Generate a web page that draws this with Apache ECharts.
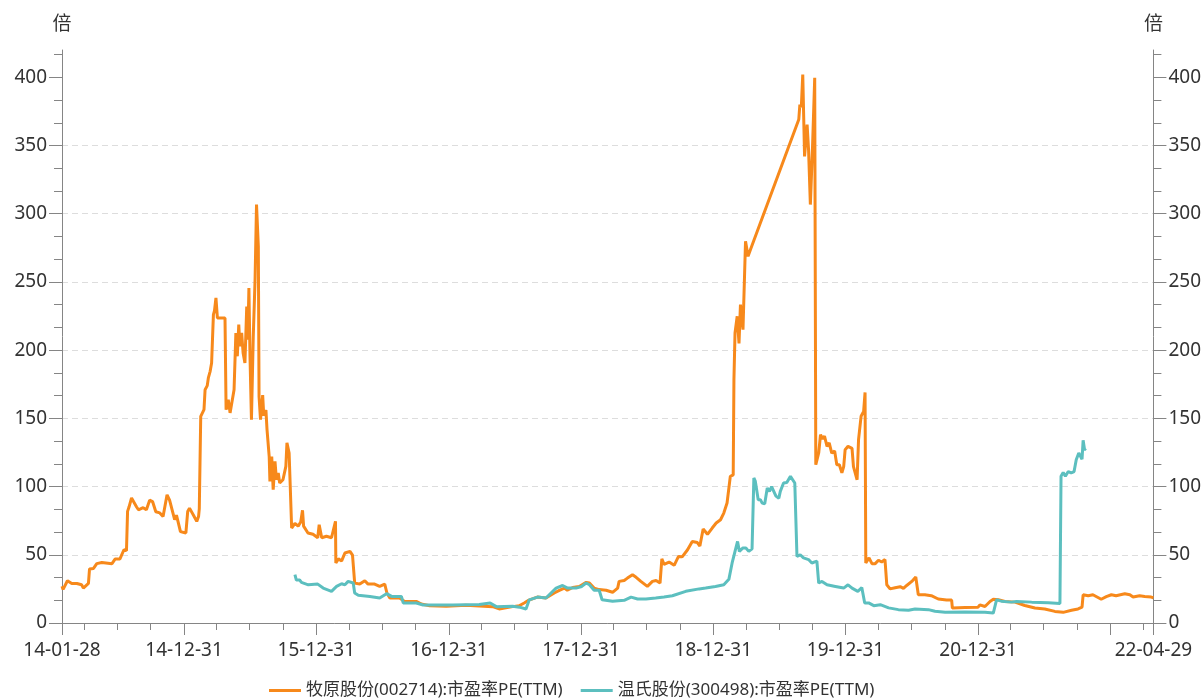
<!DOCTYPE html>
<html>
<head>
<meta charset="utf-8">
<title>牧原股份 / 温氏股份 市盈率PE(TTM)</title>
<script src="https://cdn.jsdelivr.net/npm/echarts@6/dist/echarts.min.js"></script>
<style>
    html, body { margin: 0; padding: 0; background: #fff; }
    #pe-chart { width: 1204px; height: 700px; }
</style>
</head>
<body>
<div id="pe-chart"></div>
<script>
    // 牧原股份(002714) 市盈率PE(TTM)
    var muyuanDates = [
        '2014-01-28','2014-01-31','2014-02-12','2014-02-24','2014-03-10','2014-03-23','2014-03-28','2014-04-11','2014-04-14','2014-04-25',
        '2014-05-04','2014-05-18','2014-06-15','2014-06-24','2014-07-07','2014-07-18','2014-07-25','2014-07-28','2014-08-01','2014-08-08',
        '2014-08-22','2014-08-27','2014-09-09','2014-09-18','2014-09-27','2014-10-05','2014-10-14','2014-10-25','2014-11-03','2014-11-14',
        '2014-11-21','2014-12-05','2014-12-10','2014-12-21','2015-01-05','2015-01-10','2015-01-15','2015-01-26','2015-02-04','2015-02-09',
        '2015-02-11','2015-02-15','2015-02-24','2015-02-27','2015-03-05','2015-03-08','2015-03-13','2015-03-17','2015-03-22','2015-03-25',
        '2015-03-29','2015-04-02','2015-04-23','2015-04-26','2015-05-02','2015-05-07','2015-05-12','2015-05-18','2015-05-23','2015-05-27',
        '2015-05-31','2015-06-03','2015-06-08','2015-06-12','2015-06-17','2015-06-22','2015-06-25','2015-06-28','2015-07-01','2015-07-05',
        '2015-07-10','2015-07-15','2015-07-19','2015-07-24','2015-07-26','2015-07-30','2015-08-05','2015-08-08','2015-08-14','2015-08-17',
        '2015-08-23','2015-08-25','2015-08-30','2015-09-03','2015-09-08','2015-09-12','2015-09-17','2015-09-21','2015-09-30','2015-10-08',
        '2015-10-11','2015-10-17','2015-10-24','2015-11-02','2015-11-11','2015-11-18','2015-11-23','2015-11-26','2015-12-08','2015-12-22',
        '2016-01-04','2016-01-08','2016-01-15','2016-01-28','2016-02-11','2016-02-22','2016-02-23','2016-03-01','2016-03-10','2016-03-19',
        '2016-04-02','2016-04-09','2016-04-15','2016-04-29','2016-05-13','2016-05-22','2016-06-09','2016-06-23','2016-07-07','2016-07-13',
        '2016-07-21','2016-08-17','2016-08-31','2016-10-02','2016-10-16','2016-11-08','2016-12-24','2017-02-16','2017-03-25','2017-05-01',
        '2017-05-19','2017-06-25','2017-07-13','2017-07-27','2017-08-09','2017-09-01','2017-09-25','2017-10-18','2017-11-01','2017-11-15',
        '2017-11-23','2017-12-08','2017-12-26','2018-01-14','2018-01-23','2018-02-05','2018-02-19','2018-03-10','2018-03-28','2018-04-11',
        '2018-04-15','2018-04-29','2018-05-08','2018-05-22','2018-06-01','2018-06-14','2018-07-02','2018-07-16','2018-07-26','2018-08-06',
        '2018-08-11','2018-08-17','2018-08-31','2018-09-14','2018-09-26','2018-10-06','2018-10-21','2018-11-03','2018-11-17','2018-11-24',
        '2018-12-03','2018-12-15','2018-12-28','2019-01-02','2019-01-08','2019-01-20','2019-01-29','2019-02-07','2019-02-16','2019-02-24',
        '2019-02-26','2019-03-01','2019-03-07','2019-03-12','2019-03-16','2019-03-23','2019-03-30','2019-04-06','2019-04-13','2019-08-24',
        '2019-08-27','2019-08-31','2019-09-04','2019-09-09','2019-09-16','2019-09-20','2019-09-25','2019-10-01','2019-10-07','2019-10-10',
        '2019-10-13','2019-10-18','2019-10-23','2019-10-29','2019-11-03','2019-11-10','2019-11-16','2019-11-23','2019-12-01','2019-12-07',
        '2019-12-14','2019-12-21','2019-12-26','2019-12-30','2020-01-07','2020-01-18','2020-01-22','2020-02-01','2020-02-05','2020-02-12',
        '2020-02-19','2020-02-23','2020-02-25','2020-03-05','2020-03-13','2020-03-22','2020-03-31','2020-04-09','2020-04-18','2020-04-23',
        '2020-05-02','2020-05-16','2020-05-30','2020-06-08','2020-06-17','2020-07-01','2020-07-12','2020-07-19','2020-08-06','2020-08-24',
        '2020-09-12','2020-10-05','2020-10-19','2020-10-21','2020-11-25','2020-12-31','2021-01-05','2021-01-19','2021-02-02','2021-02-11',
        '2021-02-25','2021-03-15','2021-04-12','2021-05-09','2021-06-06','2021-07-03','2021-07-31','2021-08-23','2021-09-15','2021-10-03',
        '2021-10-14','2021-10-17','2021-10-31','2021-11-13','2021-12-06','2021-12-20','2022-01-03','2022-01-16','2022-02-09','2022-02-23',
        '2022-03-04','2022-03-22','2022-04-05','2022-04-23','2022-04-29'
    ];
    var muyuanPE = [
        27, 24.6, 31, 29, 29, 28, 25.6, 29, 39.6, 40,
        43.5, 44.4, 43.5, 47, 47, 53.7, 53, 81.8, 85, 91.6,
        85, 83, 84.5, 83, 90, 89, 81.5, 80.7, 78, 94,
        90, 75.7, 79, 67, 66, 81.7, 84.2, 79, 74.5, 78,
        83.6, 151.5, 156.4, 171, 174, 179.6, 184.5, 190.6, 226, 229,
        238.3, 223.6, 223.6, 156.4, 163.7, 154, 154, 171, 212.6, 195.5,
        218.7, 202.8, 212.6, 198, 190.6, 232, 207.7, 245.6, 195.5, 149,
        210, 251.7, 306.7, 276, 166, 149, 167, 152, 156, 141.7,
        122, 103.8, 122, 97.7, 118.5, 105, 110, 102.6, 105, 114.8,
        132, 124.6, 69.6, 73, 71, 74, 82.6, 71, 66, 65,
        62.5, 72, 62.5, 63.6, 62.5, 74.5, 44, 47, 45.5, 51.3,
        52.5, 49.7, 29.3, 28.5, 31, 28.5, 28.5, 26.8, 28.5, 22,
        18.3, 18.3, 15.8, 15.8, 13.9, 12.7, 12.2, 13, 12.5, 12,
        10.3, 12, 12.6, 14.7, 16.8, 19, 18.3, 22, 23.9, 25.6,
        24, 26, 26.8, 29.8, 29.3, 25.6, 24.5, 24, 22.5, 25.6,
        30.5, 31.2, 32.9, 35.4, 33.5, 30.5, 26.8, 30.5, 31.2, 29.3,
        47, 43, 44.7, 42.3, 48.8, 48.5, 53.7, 59.8, 59, 56.4,
        68.9, 65, 69.6, 68.6, 73.3, 75.7, 80.6, 88, 107.5, 108.5,
        178.4, 212.6, 224.8, 205, 233.4, 215, 279.8, 268.8, 274, 369,
        380, 378, 402, 342, 365.3, 347, 306.7, 349.4, 399.6, 116,
        117, 124.6, 138, 135, 137, 129.5, 132, 124.6, 126, 116,
        116, 110, 114.6, 127, 129.5, 128, 114.6, 105, 134.4, 151.5,
        155, 169, 44, 47.7, 43.5, 43.5, 46, 44.7, 46.5, 28,
        25, 25.8, 26.6, 25.4, 27.5, 30.5, 33.7, 20.7, 20.7, 20,
        17.6, 16.8, 16.8, 11, 11.3, 11.6, 13.3, 12.1, 15.8, 17.4,
        17.1, 15.8, 15.3, 12.8, 11, 10.3, 8.5, 7.8, 9.3, 10.3,
        11.6, 20.7, 20, 20.7, 17.4, 19.3, 20.7, 20, 21.5, 20.7,
        19, 20, 19.5, 19, 18.5
    ];

    // 温氏股份(300498) 市盈率PE(TTM)
    var wensDates = [
        '2015-11-02','2015-11-06','2015-11-15','2015-11-20','2015-12-09','2016-01-04','2016-01-19','2016-02-11','2016-02-25','2016-03-10',
        '2016-03-19','2016-03-28','2016-04-11','2016-04-15','2016-04-25','2016-05-27','2016-06-23','2016-07-12','2016-07-26','2016-08-22',
        '2016-08-27','2016-10-02','2016-10-21','2017-01-11','2017-03-25','2017-04-24','2017-05-11','2017-06-25','2017-07-14','2017-08-01',
        '2017-08-10','2017-09-02','2017-09-25','2017-10-23','2017-11-10','2017-11-24','2017-12-17','2018-01-02','2018-01-14','2018-01-23',
        '2018-02-05','2018-02-19','2018-02-27','2018-03-28','2018-04-29','2018-05-18','2018-06-05','2018-06-28','2018-07-25','2018-08-17',
        '2018-09-09','2018-10-16','2018-11-22','2018-12-10','2019-01-06','2019-01-29','2019-02-12','2019-02-21','2019-03-01','2019-03-08',
        '2019-03-13','2019-03-23','2019-03-31','2019-04-08','2019-04-17','2019-04-22','2019-04-26','2019-05-04','2019-05-10','2019-05-15',
        '2019-05-22','2019-05-29','2019-06-04','2019-06-10','2019-06-16','2019-06-22','2019-06-30','2019-07-04','2019-07-13','2019-07-22',
        '2019-08-01','2019-08-05','2019-08-13','2019-08-19','2019-08-28','2019-09-06','2019-09-20','2019-09-29','2019-10-13','2019-10-18',
        '2019-10-27','2019-11-10','2019-12-03','2019-12-26','2020-01-07','2020-01-18','2020-02-03','2020-02-14','2020-02-22','2020-03-04',
        '2020-03-18','2020-04-05','2020-04-28','2020-05-25','2020-06-22','2020-07-10','2020-08-16','2020-09-03','2020-10-01','2020-11-25',
        '2021-01-19','2021-02-11','2021-02-20','2021-03-05','2021-04-02','2021-04-16','2021-05-28','2021-07-13','2021-08-14','2021-08-17',
        '2021-08-23','2021-08-29','2021-09-06','2021-09-14','2021-09-22','2021-09-28','2021-10-05','2021-10-10','2021-10-14','2021-10-17',
        '2021-10-21','2021-10-24'
    ];
    var wensPE = [
        35.4, 31.5, 31.5, 29.8, 28, 28.5, 25.6, 23.2, 26.8, 28.8,
        28, 30.5, 29.3, 22, 20.3, 19.5, 18.3, 21.5, 19.5, 19.5,
        14.7, 14.7, 13.2, 13.2, 13.5, 14.7, 12, 12.3, 11.6, 10.3,
        17, 19, 18.3, 25.6, 27.5, 25.6, 25.6, 26.8, 29.3, 28,
        24, 24, 17, 16, 16.6, 19, 17.6, 17.6, 18.3, 19,
        20, 23.2, 25, 25.6, 26.8, 28, 32, 44, 52.5, 59.8,
        52.5, 55, 55, 52.5, 54.3, 106.3, 104, 90.4, 90.4, 87.9,
        87.4, 99, 96.5, 100, 96.5, 93, 91.5, 96.5, 102.6, 103,
        107.5, 108.6, 102.6, 48.8, 50, 47.7, 46.5, 44, 45.3, 29.3,
        30.5, 28, 26.8, 25.6, 28, 25.6, 23.2, 26, 14.7, 14.7,
        12.7, 13.4, 11.1, 9.8, 9.3, 10.3, 9.8, 8.6, 7.8, 8,
        7.8, 7.3, 17, 16, 15.3, 15.8, 15.3, 14.8, 14.3, 107.5,
        110.4, 107.5, 111, 110, 111, 119.7, 124.6, 125.8, 120, 133.9,
        127, 128
    ];

    // axis ticks
    var xStart = '2014-01-28';
    var xEnd = '2022-04-29';
    var yearTicks = ['2014-01-28', '2014-12-31', '2015-12-31', '2016-12-31', '2017-12-31',
        '2018-12-31', '2019-12-31', '2020-12-31', '2021-12-31', '2022-04-29'];
    var xLabelDates = ['2014-01-28', '2014-12-31', '2015-12-31', '2016-12-31', '2017-12-31',
        '2018-12-31', '2019-12-31', '2020-12-31', '2022-04-29'];
    var quarterEnds = ['-03-31', '-06-30', '-09-30'];
    var quarterYears = [2014, 2015, 2016, 2017, 2018, 2019, 2020, 2021];
    var yTicks = [0, 50, 100, 150, 200, 250, 300, 350, 400];
    var yMax = 420;

    var seriesNames = ['牧原股份(002714):市盈率PE(TTM)', '温氏股份(300498):市盈率PE(TTM)'];
    var seriesColors = ['#f7891b', '#5cbfbf'];

    // dates as UTC day timestamps, drawn on a plain value axis
    var tp = function (s) {
        var p = s.split('-');
        return Date.UTC(+p[0], +p[1] - 1, +p[2]);
    };
    var fmt = function (v) {
        var d = new Date(v);
        var pad = function (n) { return (n < 10 ? '0' : '') + n; };
        return pad(d.getUTCFullYear() % 100) + '-' + pad(d.getUTCMonth() + 1) + '-' + pad(d.getUTCDate());
    };

    var quarterTicks = [];
    quarterYears.forEach(function (y) {
        quarterEnds.forEach(function (q) { quarterTicks.push(y + q); });
    });
    quarterTicks.push('2022-03-31');

    var yMinorTicks = [];
    yTicks.forEach(function (base) {
        [50 / 3, 100 / 3].forEach(function (d) {
            if (base + d < yMax) yMinorTicks.push(base + d);
        });
    });

    var axisColor = '#858585';
    var textColor = '#333333';
    var font = "'Noto Sans', 'Noto Sans CJK SC', sans-serif";

    function mainY(position, withSplit) {
        return {
            type: 'value',
            position: position,
            min: 0,
            max: yMax,
            interval: 50,
            name: '倍',
            nameLocation: 'end',
            nameGap: 16,
            nameTextStyle: { fontSize: 19, color: textColor, fontFamily: font, align: 'center' },
            axisLine: { show: true, lineStyle: { color: axisColor, width: 1 } },
            axisTick: { show: true, customValues: yTicks, length: 13, lineStyle: { color: axisColor } },
            axisLabel: { customValues: yTicks, margin: 15, fontSize: 19, color: textColor, fontFamily: font },
            splitLine: {
                show: withSplit,
                showMaxLine: false,
                lineStyle: { color: '#dddddd', type: [6, 4], width: 1 }
            }
        };
    }

    function minorY(position) {
        return {
            type: 'value',
            position: position,
            min: 0,
            max: yMax,
            axisLine: { show: false },
            axisTick: { show: true, customValues: yMinorTicks, length: 8, lineStyle: { color: axisColor } },
            axisLabel: { show: false },
            splitLine: { show: false }
        };
    }

    function dateX(tickDates, tickLen, labelDates) {
        return {
            type: 'value',
            position: 'bottom',
            min: tp(xStart),
            max: tp(xEnd),
            axisLine: { show: !!labelDates, onZero: false, lineStyle: { color: axisColor, width: 1 } },
            axisTick: { show: true, customValues: tickDates.map(tp), length: tickLen, lineStyle: { color: axisColor } },
            axisLabel: labelDates ? {
                customValues: labelDates.map(tp),
                showMinLabel: true,
                showMaxLabel: true,
                margin: 18,
                fontSize: 19,
                color: textColor,
                fontFamily: font,
                formatter: fmt
            } : { show: false },
            splitLine: { show: false }
        };
    }

    var chart = echarts.init(document.getElementById('pe-chart'));
    var option = {
        animation: false,
        backgroundColor: '#ffffff',
        grid: { left: 62, right: 48, top: 50, bottom: 77 },
        legend: {
            left: 264,
            top: 677,
            icon: 'rect',
            itemWidth: 32,
            itemHeight: 3,
            itemGap: 18,
            textStyle: { fontSize: 17, color: textColor, fontFamily: font },
            data: seriesNames
        },
        xAxis: [dateX(yearTicks, 12, xLabelDates), dateX(quarterTicks, 7, null)],
        yAxis: [mainY('left', true), mainY('right', false), minorY('left'), minorY('right')],
        series: [
            {
                name: seriesNames[0],
                type: 'line',
                xAxisIndex: 0,
                yAxisIndex: 0,
                showSymbol: false,
                symbol: 'none',
                color: seriesColors[0],
                lineStyle: { width: 3, color: seriesColors[0] },
                data: muyuanDates.map(function (d, i) { return [tp(d), muyuanPE[i]]; })
            },
            {
                name: seriesNames[1],
                type: 'line',
                xAxisIndex: 0,
                yAxisIndex: 0,
                showSymbol: false,
                symbol: 'none',
                color: seriesColors[1],
                lineStyle: { width: 3, color: seriesColors[1] },
                data: wensDates.map(function (d, i) { return [tp(d), wensPE[i]]; })
            }
        ]
    };
    chart.setOption(option);
    window.addEventListener('resize', function () {
        chart.resize();
    });
</script>
</body>
</html>
